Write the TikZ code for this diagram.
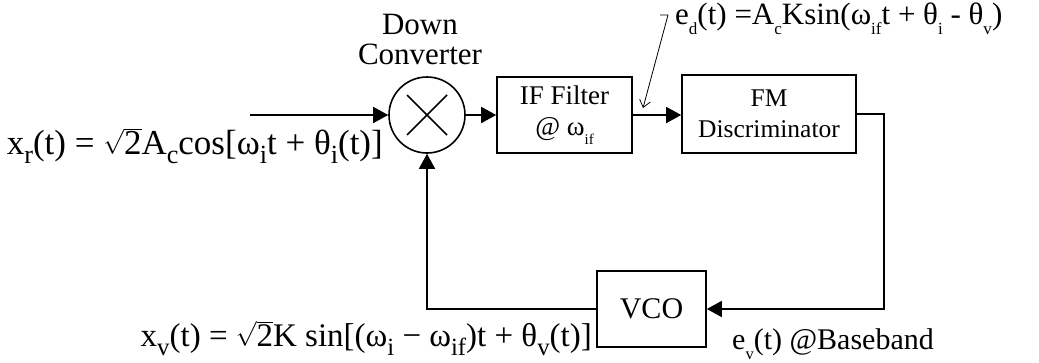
\documentclass[tikz,border=0pt]{standalone}
\usepackage{fontspec}
\usepackage{graphicx}
\setmainfont{Liberation Serif}
\usetikzlibrary{arrows.meta}
\newcommand{\lsub}[1]{\raisebox{-0.28em}{\scalebox{0.75}{#1}}}
\newcommand{\tsub}[1]{\raisebox{-0.35em}{\scalebox{0.55}{#1}}}
\newcommand{\rtwo}{\(\sqrt{\mbox{2}}\)}
\begin{document}
\begin{tikzpicture}[x=1pt,y=-1pt,
  wire/.style={line width=1.6pt},
  arr/.style={wire,-{Triangle[length=15pt,width=16pt]}},
  blk/.style={draw,line width=1.6pt,inner sep=0,align=center,font=\fontsize{26}{31}\selectfont},
  lbl/.style={inner sep=0,font=\fontsize{30}{31}\selectfont},
  eqn/.style={inner sep=0,font=\fontsize{33}{35}\selectfont},
  note/.style={line width=0.8pt,-{Straight Barb[length=7pt,width=11pt]}}]
\useasboundingbox (0,0) rectangle (1039,362);
\node[circle,draw,line width=1.6pt,minimum size=76pt,inner sep=0] (mix) at (427,115) {};
\draw[wire] ([shift={(-20,-20)}]mix.center) -- ([shift={(20,20)}]mix.center);
\draw[wire] ([shift={(-20,20)}]mix.center) -- ([shift={(20,-20)}]mix.center);
\node[blk,minimum width=135pt,minimum height=76pt,font=\fontsize{27}{31}\selectfont] (iff) at (564.5,115) {IF Filter\\@ ω\tsub{if}};
\node[blk,minimum width=174pt,minimum height=78pt,font=\fontsize{25.5}{31}\selectfont] (fm) at (769,114) {FM\\Discriminator};
\node[blk,minimum width=109pt,minimum height=76pt,font=\fontsize{30}{32}\selectfont] (vco) at (651.5,309) {VCO};
\coordinate (in) at (250,115);
\coordinate (rt) at (884,0);
\draw[arr] (in) -- (mix.west);
\draw[arr] (mix.east) -- (iff.west);
\draw[arr] (iff.east) -- (iff.east -| fm.west);
\draw[arr] (fm.east) -| (rt |- vco.east) -- (vco.east);
\draw[arr] (vco.west) -| (mix.south);
\node[eqn,anchor=base east,font=\fontsize{35}{36}\selectfont] (xr) at (383,154) {x\lsub{r}(t) = \rtwo A\lsub{c}cos[ω\lsub{i}t + θ\lsub{i}(t)]};
\node[lbl,align=center,font=\fontsize{31}{30}\selectfont] (dc) at (420,39) {Down\\Converter};
\node[lbl,anchor=base west,font=\fontsize{31}{31}\selectfont] (ed) at (675,24) {e\tsub{d}(t) =A\tsub{c}Ksin(ω\tsub{if}t + θ\tsub{i} - θ\tsub{v})};
\coordinate (ta) at (660,15);
\coordinate (tb) at (668,15);
\coordinate (tip) at (643,108);
\draw[note] (ta) -- (tb) -- (tip);
\node[eqn,anchor=base east] (xv) at (592,346) {x\lsub{v}(t) = \rtwo K sin[(ω\lsub{i} − ω\lsub{if})t + θ\lsub{v}(t)]};
\node[lbl,anchor=base west] (ev) at (732,349) {e\tsub{v}(t) @Baseband};
\end{tikzpicture}
\end{document}
